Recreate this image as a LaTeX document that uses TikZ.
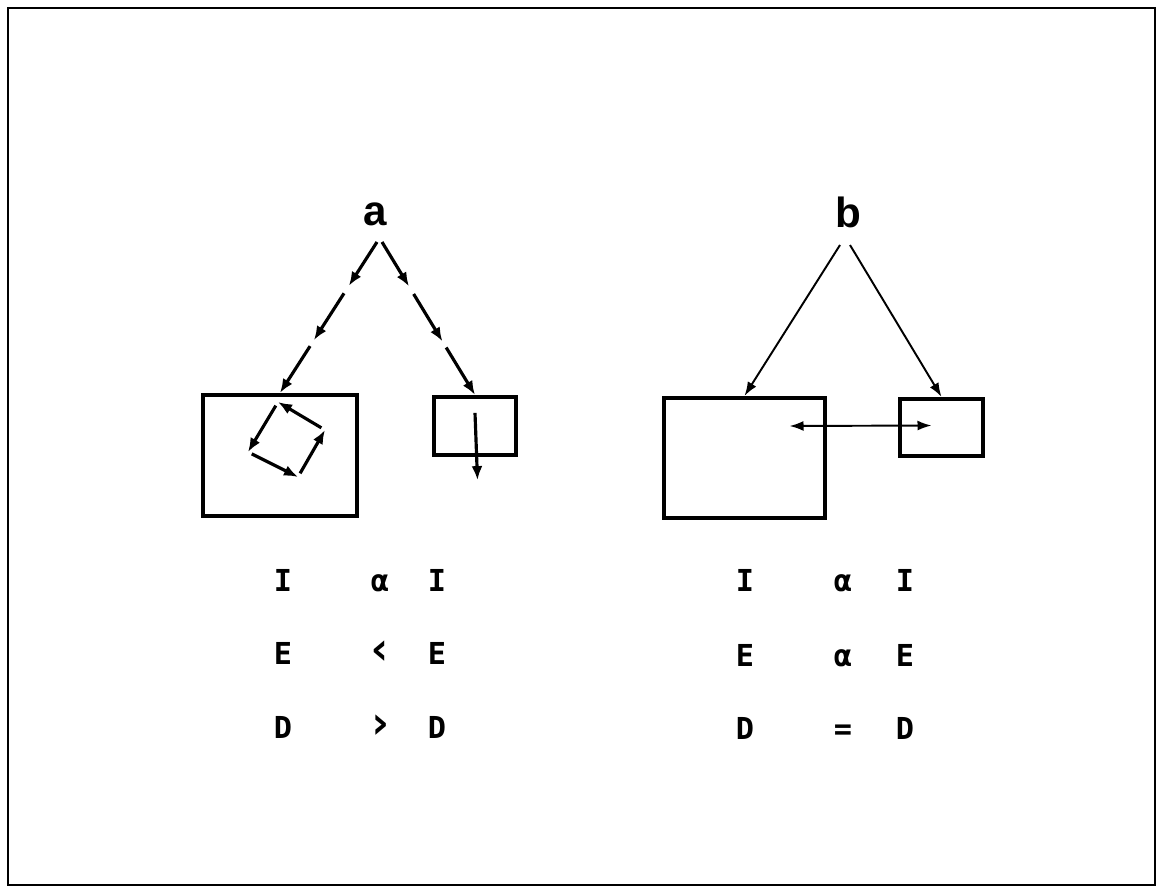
\documentclass[tikz,border=0pt]{standalone}
\usepackage{fontspec}
\setmainfont{Liberation Sans}
\newfontfamily\typefont{DejaVu Sans Mono}
\usetikzlibrary{arrows.meta,calc}

\begin{document}
\begin{tikzpicture}[
  box/.style={draw, line width=1.2pt, inner sep=0pt},
  arr/.style={-{Latex[length=1.4mm,width=1.1mm]}, line width=0.9pt},
  thinarr/.style={-{Latex[length=1.4mm,width=1mm]}, line width=0.55pt},
  lbl/.style={font=\fontsize{12}{14}\selectfont\bfseries},
  txt/.style={anchor=base, font=\typefont\bfseries\fontsize{8.6}{10}\selectfont}
]
\useasboundingbox (0,0) rectangle (11.63,8.91);
\draw[line width=0.8pt] (0.08,0.06) rectangle (11.55,8.83);

% labels
\node[lbl] (la) at (3.75,6.77) {a};
\node[lbl] (lb) at (8.48,6.79) {b};

% boxes
\node[box, minimum width=15.4mm, minimum height=12.1mm] (a1) at (2.80,4.355) {};
\node[box, minimum width=8.2mm, minimum height=5.8mm] (a2) at (4.75,4.65) {};
\node[box, minimum width=16.1mm, minimum height=12mm] (b1) at (7.445,4.33) {};
\node[box, minimum width=8.3mm, minimum height=5.7mm] (b2) at (9.415,4.635) {};

% case a: broken arrows
\coordinate (sa1) at (3.77,6.49);
\coordinate (sa2) at (3.82,6.49);
\foreach \s/\e in {0/0.29,0.34/0.65,0.69/1} {
  \draw[arr] ($(sa1)!\s!(a1.north)$) -- ($(sa1)!\e!(a1.north)$);
  \draw[arr] ($(sa2)!\s!(a2.north)$) -- ($(sa2)!\e!(a2.north)$);
}

% rotation inside a1
\coordinate (q1) at (2.78,4.89);
\coordinate (q2) at (2.48,4.39);
\coordinate (q3) at (2.98,4.14);
\coordinate (q4) at (3.25,4.61);
\foreach \p/\q in {q1/q2,q2/q3,q3/q4,q4/q1}
  \draw[arr, shorten <=1.2pt] (\p) -- (\q);

% translation out of a2
\draw[arr] ([yshift=-1.8mm]a2.north) -- ([xshift=0.25mm,yshift=-2.3mm]a2.south);

% case b
\coordinate (sb1) at (8.40,6.46);
\coordinate (sb2) at (8.50,6.46);
\draw[thinarr] (sb1) -- (b1.north);
\draw[thinarr] (sb2) -- (b2.north);
\draw[thinarr, {Latex[length=1.4mm,width=1mm]}-{Latex[length=1.4mm,width=1mm]}]
  ([xshift=4.5mm,yshift=3.2mm]b1.center) -- ([xshift=-1mm,yshift=0.2mm]b2.center);

% relations
\foreach \t [count=\i] in {I,α,I,E,{\fontsize{13}{14}\selectfont‹},E,D,{\fontsize{13}{14}\selectfont›},D} {
  \pgfmathtruncatemacro\r{(\i-1)/3}
  \pgfmathtruncatemacro\c{mod(\i-1,3)}
  \pgfmathsetmacro\xx{{2.83,3.80,4.37}[\c]}
  \pgfmathsetmacro\yy{{3.00,2.27,1.53}[\r]}
  \node[txt] (ra\i) at (\xx,\yy) {\t};
}
\foreach \t [count=\i] in {I,α,I,E,α,E,D,=,D} {
  \pgfmathtruncatemacro\r{(\i-1)/3}
  \pgfmathtruncatemacro\c{mod(\i-1,3)}
  \pgfmathsetmacro\xx{{7.45,8.43,9.05}[\c]}
  \pgfmathsetmacro\yy{{3.00,2.25,1.52}[\r]}
  \node[txt] (rb\i) at (\xx,\yy) {\t};
}
\end{tikzpicture}
\end{document}
